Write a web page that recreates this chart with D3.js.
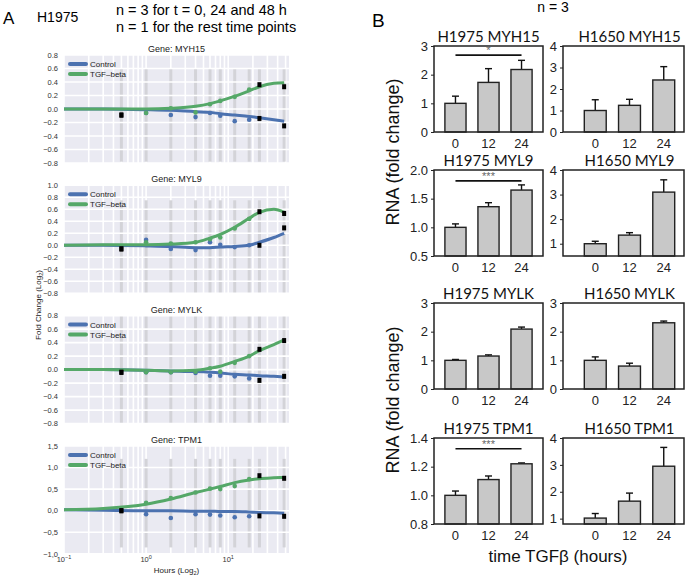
<!DOCTYPE html>
<html>
<head>
<meta charset="utf-8">
<script src="https://cdn.jsdelivr.net/npm/d3@7"></script>
<style>
  body { margin: 0; background: #fff; }
  text { font-family: "Liberation Sans", Arial, sans-serif; }
</style>
</head>
<body>
<svg id="chart" width="685" height="577"></svg>
<script>
// ---- panel A data: time course, fold change (log2) ----
var hours = [0.5, 1, 2, 4, 6, 8, 12, 18, 24, 48];
var replicateHours = [0.5, 24, 48];
var fitHours = [0.1, 0.3, 1, 2, 4, 6, 8, 12, 18, 24, 36, 48];
var genes = ["MYH15", "MYL9", "MYLK", "TPM1"];

var controlPoints = [
  [-0.09, -0.06, -0.09, -0.12, -0.06, -0.10, -0.18, -0.16, -0.14, -0.25],
  [-0.06, 0.09, -0.06, -0.08, 0.05, 0.01, -0.03, 0.00, 0.00, 0.29],
  [-0.04, -0.04, -0.04, -0.05, -0.09, -0.09, -0.10, -0.13, -0.16, -0.10],
  [0.00, -0.08, -0.17, -0.08, -0.09, -0.11, -0.15, -0.13, -0.12, -0.13]
];
var tgfPoints = [
  [-0.09, -0.06, 0.01, -0.05, 0.07, 0.12, 0.18, 0.29, 0.36, 0.33],
  [-0.06, 0.05, 0.03, 0.05, 0.10, 0.13, 0.28, 0.44, 0.56, 0.53],
  [-0.04, -0.04, -0.04, -0.03, 0.02, -0.03, 0.10, 0.20, 0.30, 0.43],
  [0.00, 0.18, 0.29, 0.42, 0.51, 0.50, 0.57, 0.73, 0.81, 0.75]
];
var controlFit = [
  [0, 0, -0.01, -0.02, -0.04, -0.05, -0.07, -0.09, -0.11, -0.13, -0.16, -0.18],
  [0, 0, -0.01, -0.02, -0.04, -0.04, -0.03, -0.02, 0.00, 0.05, 0.13, 0.20],
  [0, 0, -0.01, -0.02, -0.03, -0.04, -0.05, -0.07, -0.08, -0.09, -0.10, -0.11],
  [0.02, 0.01, 0, 0, -0.01, -0.01, -0.02, -0.02, -0.03, -0.04, -0.05, -0.06]
];
var tgfFit = [
  [0, 0, 0, 0.01, 0.04, 0.08, 0.12, 0.19, 0.27, 0.33, 0.38, 0.39],
  [0, 0.01, 0.01, 0.02, 0.05, 0.12, 0.18, 0.30, 0.45, 0.55, 0.60, 0.55],
  [0, 0, -0.01, -0.02, -0.01, 0.02, 0.05, 0.12, 0.20, 0.28, 0.37, 0.44],
  [0.02, 0.05, 0.15, 0.27, 0.42, 0.50, 0.56, 0.65, 0.71, 0.74, 0.76, 0.77]
];
var yDomains = [[-0.8, 0.8], [-0.8, 1.0], [-0.8, 0.8], [-1.0, 1.5]];
var yTicks = [
  [-0.8, -0.6, -0.4, -0.2, 0, 0.2, 0.4, 0.6, 0.8],
  [-0.8, -0.6, -0.4, -0.2, 0, 0.2, 0.4, 0.6, 0.8, 1.0],
  [-0.8, -0.6, -0.4, -0.2, 0, 0.2, 0.4, 0.6, 0.8],
  [-1.0, -0.5, 0, 0.5, 1.0, 1.5]
];
var decimalMarks = [".", ".", ".", ","];
// spread of the replicate cloud drawn in grey behind every sampled hour
var spreadRanges = [[-0.78, 0.6], [-0.8, 0.75], [-0.8, 0.8], [-0.85, 1.2]];

// ---- panel B data: qPCR, RNA fold change ----
var barHours = ["0", "12", "24"];
var barTitles = ["H1975 MYH15", "H1650 MYH15", "H1975 MYL9", "H1650 MYL9",
                 "H1975 MYLK", "H1650 MYLK", "H1975 TPM1", "H1650 TPM1"];
var barMeans = [
  [1.0, 1.73, 2.18], [1.0, 1.24, 2.42],
  [1.0, 1.36, 1.65], [1.0, 1.35, 3.10],
  [1.0, 1.15, 2.09], [1.0, 0.80, 2.31],
  [1.0, 1.11, 1.22], [1.02, 1.65, 2.95]
];
var barErrors = [
  [0.25, 0.48, 0.32], [0.50, 0.28, 0.62],
  [0.06, 0.07, 0.09], [0.10, 0.10, 0.50],
  [0.03, 0.04, 0.07], [0.12, 0.10, 0.06],
  [0.03, 0.025, 0.006], [0.17, 0.30, 0.70]
];
var barDomains = [[0, 3], [0, 4], [0.5, 2.0], [0.5, 4], [0, 3], [0, 3], [0.8, 1.4], [0.8, 4]];
var barTicks = [
  [0, 1, 2, 3], [0, 1, 2, 3, 4],
  [0.5, 1.0, 1.5, 2.0], [1, 2, 3, 4],
  [0, 1, 2, 3], [0, 1, 2, 3],
  [0.8, 1.0, 1.2, 1.4], [1, 2, 3, 4]
];
var sigLabels = ["*", "", "***", "", "", "", "***", ""];
var sigLevels = [2.68, null, 1.81, null, null, null, 1.325, null];

var blue = "#4c72b0", green = "#55a868";
var svg = d3.select("#chart");

// ---------------- panel A ----------------
svg.append("text").attr("x", 3).attr("y", 24).attr("font-size", 17).text("A");
svg.append("text").attr("x", 37).attr("y", 22).attr("font-size", 14).text("H1975");
svg.append("text").attr("x", 116).attr("y", 15).attr("font-size", 14.5).text("n = 3 for t = 0, 24 and 48 h");
svg.append("text").attr("x", 116).attr("y", 32).attr("font-size", 14.5).text("n = 1 for the rest time points");

var x = d3.scaleLog().domain([0.1, 55]).range([64, 289]);
var plotH = 108, plotTop = 55, plotStep = 130.3;

genes.forEach(function(gene, i) {
  var top = plotTop + i * plotStep;
  var y = d3.scaleLinear().domain(yDomains[i]).range([top + plotH, top]);
  var g = svg.append("g");

  g.append("rect")
      .attr("x", x.range()[0])
      .attr("y", top)
      .attr("width", x.range()[1] - x.range()[0])
      .attr("height", plotH)
      .attr("fill", "#eaeaf2");

  // white seaborn grid, minor log lines included
  g.selectAll("line.vgrid").data(x.ticks()).enter().append("line")
      .attr("x1", x).attr("x2", x)
      .attr("y1", top).attr("y2", top + plotH)
      .attr("stroke", "#fff").attr("stroke-width", 1.6);

  g.selectAll("rect.spread").data(hours).enter().append("rect")
      .attr("class", "spread")
      .attr("x", function(d) { return x(d) - 1.5; })
      .attr("width", 3)
      .attr("y", y(spreadRanges[i][1]))
      .attr("height", y(spreadRanges[i][0]) - y(spreadRanges[i][1]))
      .attr("fill", "#d3d3d8");

  g.selectAll("line.hgrid").data(yTicks[i]).enter().append("line")
      .attr("x1", x.range()[0]).attr("x2", x.range()[1])
      .attr("y1", y).attr("y2", y)
      .attr("stroke", "#fff").attr("stroke-width", 1.6);

  var line = d3.line()
      .curve(d3.curveMonotoneX)
      .x(function(d, j) { return x(fitHours[j]); })
      .y(function(d) { return y(d); });

  g.append("path").attr("d", line(controlFit[i]))
      .attr("fill", "none").attr("stroke", blue).attr("stroke-width", 3);
  g.append("path").attr("d", line(tgfFit[i]))
      .attr("fill", "none").attr("stroke", green).attr("stroke-width", 3);

  [[controlPoints[i], blue], [tgfPoints[i], green]].forEach(function(s) {
    var pts = hours.map(function(h, j) { return {h: h, v: s[0][j]}; });
    g.selectAll(null).data(pts.filter(function(d) { return replicateHours.indexOf(d.h) < 0; }))
      .enter().append("circle")
        .attr("cx", function(d) { return x(d.h); })
        .attr("cy", function(d) { return y(d.v); })
        .attr("r", 2.3)
        .attr("fill", s[1]);
    g.selectAll(null).data(pts.filter(function(d) { return replicateHours.indexOf(d.h) >= 0; }))
      .enter().append("rect")
        .attr("x", function(d) { return x(d.h) - 2; })
        .attr("y", function(d) { return y(d.v) - 2.5; })
        .attr("width", 4).attr("height", 5)
        .attr("fill", "#000");
  });

  g.append("text")
      .attr("x", (x.range()[0] + x.range()[1]) / 2)
      .attr("y", top - 3)
      .attr("text-anchor", "middle")
      .attr("font-size", 9)
      .attr("fill", "#222")
      .text("Gene: " + gene);

  var fmt = d3.format(".1f");
  g.selectAll("text.ytick").data(yTicks[i]).enter().append("text")
      .attr("x", 58)
      .attr("y", function(d) { return y(d) + 2.6; })
      .attr("text-anchor", "end")
      .attr("font-size", 7.5)
      .attr("fill", "#333")
      .text(function(d) { return fmt(d).replace(".", decimalMarks[i]); });

  [["Control", blue], ["TGF\u2013beta", green]].forEach(function(l, k) {
    var ly = top + 9 + k * 10;
    g.append("line")
        .attr("x1", 70).attr("x2", 86).attr("y1", ly).attr("y2", ly)
        .attr("stroke", l[1]).attr("stroke-width", 4).attr("stroke-linecap", "round");
    g.append("text")
        .attr("x", 90).attr("y", ly + 3)
        .attr("font-size", 8).attr("fill", "#222")
        .text(l[0]);
  });

  if (i === genes.length - 1) {
    var ex = g.selectAll("text.xtick").data([0.1, 1, 10]).enter().append("text")
        .attr("x", x)
        .attr("y", top + plotH + 8.5)
        .attr("text-anchor", "middle")
        .attr("font-size", 7.5)
        .attr("fill", "#333");
    ex.append("tspan").text("10");
    ex.append("tspan").attr("dy", -3).attr("font-size", 5.5)
        .text(function(d) { return d3.format("d")(Math.log10(d)).replace("-", "\u2212"); });

    var xl = g.append("text")
        .attr("x", (x.range()[0] + x.range()[1]) / 2)
        .attr("y", top + plotH + 19.5)
        .attr("text-anchor", "middle")
        .attr("font-size", 8).attr("fill", "#222");
    xl.append("tspan").text("Hours (Log");
    xl.append("tspan").attr("font-size", 5.5).attr("dy", 1.5).text("2");
    xl.append("tspan").attr("dy", -1.5).text(")");
  }
});

var yl = svg.append("text")
    .attr("transform", "translate(41,305) rotate(-90)")
    .attr("text-anchor", "middle")
    .attr("font-size", 8).attr("fill", "#222");
yl.append("tspan").text("Fold Change (Log");
yl.append("tspan").attr("font-size", 5.5).attr("dy", 2).text("2");
yl.append("tspan").attr("dy", -2).text(")");

// ---------------- panel B ----------------
svg.append("text").attr("x", 372).attr("y", 27).attr("font-size", 19).text("B");
svg.append("text").attr("x", 553).attr("y", 12).attr("font-size", 14)
    .attr("text-anchor", "middle").text("n = 3");

var rowTops = [46, 170, 303, 438], rowH = 86;
var colBox = [[434, 543], [563, 684]];
var colBars = [[434, 543], [573, 686]];

barTitles.forEach(function(title, k) {
  var row = Math.floor(k / 2), col = k % 2;
  var top = rowTops[row], bottom = top + rowH;
  var left = colBox[col][0], right = colBox[col][1];
  var g = svg.append("g");

  var bx = d3.scaleBand().domain(barHours).range(colBars[col])
      .paddingInner(0.36).paddingOuter(0.33);
  var by = d3.scaleLinear().domain(barDomains[k]).range([bottom, top]);

  var bars = barMeans[k].map(function(v, j) { return {t: barHours[j], v: v, e: barErrors[k][j]}; });

  g.selectAll("line.err").data(bars).enter().append("line")
      .attr("x1", function(d) { return bx(d.t) + bx.bandwidth() / 2; })
      .attr("x2", function(d) { return bx(d.t) + bx.bandwidth() / 2; })
      .attr("y1", function(d) { return by(d.v); })
      .attr("y2", function(d) { return by(d.v + d.e); })
      .attr("stroke", "#111").attr("stroke-width", 1.4);
  g.selectAll("line.cap").data(bars).enter().append("line")
      .attr("x1", function(d) { return bx(d.t) + bx.bandwidth() / 2 - 3.5; })
      .attr("x2", function(d) { return bx(d.t) + bx.bandwidth() / 2 + 3.5; })
      .attr("y1", function(d) { return by(d.v + d.e); })
      .attr("y2", function(d) { return by(d.v + d.e); })
      .attr("stroke", "#111").attr("stroke-width", 1.4);

  g.selectAll("rect.bar").data(bars).enter().append("rect")
      .attr("x", function(d) { return bx(d.t); })
      .attr("width", bx.bandwidth())
      .attr("y", function(d) { return by(d.v); })
      .attr("height", function(d) { return bottom - by(d.v); })
      .attr("fill", "#c8c8c8")
      .attr("stroke", "#222").attr("stroke-width", 1.4);

  g.append("rect")
      .attr("x", left).attr("y", top)
      .attr("width", right - left).attr("height", rowH)
      .attr("fill", "none").attr("stroke", "#222").attr("stroke-width", 1.5);

  var fmt = barTicks[k].some(function(t) { return t % 1; }) ? d3.format(".1f") : d3.format("d");
  var ax = g.append("g")
      .attr("transform", "translate(" + left + ",0)")
      .call(d3.axisLeft(by).tickValues(barTicks[k]).tickFormat(fmt).tickSize(3).tickPadding(3));
  ax.select(".domain").remove();
  ax.selectAll("text").attr("font-size", 13).attr("fill", "#222")
      .style("font-family", "Liberation Sans, Arial, sans-serif");
  ax.selectAll("line").attr("stroke", "#222");

  g.selectAll("text.xt").data(barHours).enter().append("text")
      .attr("x", function(d) { return bx(d) + bx.bandwidth() / 2; })
      .attr("y", bottom + 16)
      .attr("text-anchor", "middle")
      .attr("font-size", 13).attr("fill", "#222")
      .text(function(d) { return d; });

  g.append("text")
      .attr("x", (colBars[col][0] + colBars[col][1]) / 2)
      .attr("y", top - 4)
      .attr("text-anchor", "middle")
      .attr("font-size", 15)
      .attr("fill", "#111")
      .style("font-family", "Lato, 'Open Sans', sans-serif")
      .text(title);

  if (sigLevels[k] !== null) {
    var sx1 = bx("0") + bx.bandwidth() / 2, sx2 = bx("24") + bx.bandwidth() / 2;
    g.append("line")
        .attr("x1", sx1).attr("x2", sx2)
        .attr("y1", by(sigLevels[k])).attr("y2", by(sigLevels[k]))
        .attr("stroke", "#111").attr("stroke-width", 1.6);
    g.append("text")
        .attr("x", (sx1 + sx2) / 2)
        .attr("y", by(sigLevels[k]) - 1)
        .attr("text-anchor", "middle")
        .attr("font-size", 11).attr("fill", "#666")
        .text(sigLabels[k]);
  }
});

[152, 400].forEach(function(cy) {
  svg.append("text")
      .attr("transform", "translate(" + 399 + "," + cy + ") rotate(-90)")
      .attr("text-anchor", "middle")
      .attr("font-size", 18).attr("fill", "#111")
      .text("RNA (fold change)");
});

svg.append("text").attr("x", 558).attr("y", 562)
    .attr("text-anchor", "middle").attr("font-size", 17).attr("fill", "#111")
    .text("time TGF\u03b2 (hours)");
</script>
</body>
</html>
